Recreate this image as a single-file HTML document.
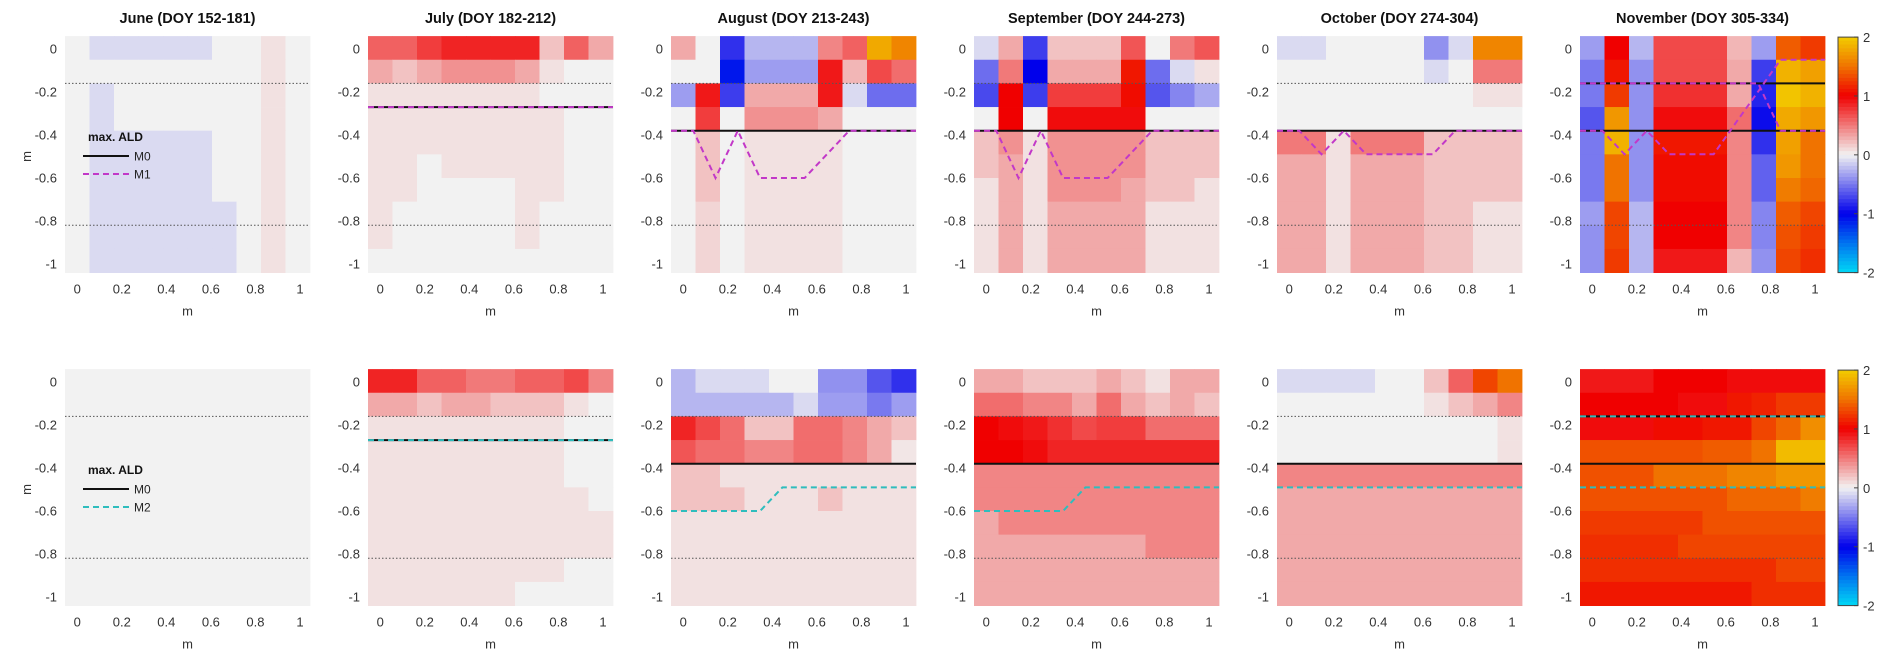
<!DOCTYPE html>
<html><head><meta charset="utf-8"><style>
body{margin:0;background:#fff;}
svg{display:block;font-family:"Liberation Sans",Arial,sans-serif;}
</style></head><body>
<svg id="chart" width="1892" height="666" viewBox="0 0 1892 666"></svg>
<script>
// ---------- data ----------
const titles = ["June (DOY 152-181)","July (DOY 182-212)","August (DOY 213-243)","September (DOY 244-273)","October (DOY 274-304)","November (DOY 305-334)"];
const xTicks = [0,0.2,0.4,0.6,0.8,1];
const xTickLabels = ["0","0.2","0.4","0.6","0.8","1"];
const yTicks = [0,-0.2,-0.4,-0.6,-0.8,-1];
const yTickLabels = ["0","-0.2","-0.4","-0.6","-0.8","-1"];
const cbTicks = [2,1,0,-1,-2];
const dottedDepths = [-0.16,-0.82];

const junT = [
[0,-0.1,-0.1,-0.1,-0.1,-0.1,0,0,0.07,0],
[0,0,0,0,0,0,0,0,0.07,0],
[0,-0.1,0,0,0,0,0,0,0.07,0],
[0,-0.1,0,0,0,0,0,0,0.07,0],
[0,-0.1,-0.1,-0.1,-0.1,-0.1,0,0,0.07,0],
[0,-0.1,-0.1,-0.1,-0.1,-0.1,0,0,0.07,0],
[0,-0.1,-0.1,-0.1,-0.1,-0.1,0,0,0.07,0],
[0,-0.1,-0.1,-0.1,-0.1,-0.1,-0.1,0,0.07,0],
[0,-0.1,-0.1,-0.1,-0.1,-0.1,-0.1,0,0.07,0],
[0,-0.1,-0.1,-0.1,-0.1,-0.1,-0.1,0,0.07,0]];
const julT = [
[0.6,0.6,0.75,0.85,0.85,0.85,0.85,0.2,0.6,0.3],
[0.3,0.2,0.3,0.4,0.4,0.4,0.3,0.07,0,0],
[0.07,0.07,0.07,0.07,0.07,0.07,0.07,0,0,0],
[0.07,0.07,0.07,0.07,0.07,0.07,0.07,0.07,0,0],
[0.07,0.07,0.07,0.07,0.07,0.07,0.07,0.07,0,0],
[0.07,0.07,0,0.07,0.07,0.07,0.07,0.07,0,0],
[0.07,0.07,0,0,0,0,0.07,0.07,0,0],
[0.07,0,0,0,0,0,0.07,0,0,0],
[0.07,0,0,0,0,0,0.07,0,0,0],
[0,0,0,0,0,0,0,0,0,0]];
const augT = [
[0.3,0,-0.8,-0.25,-0.25,-0.25,0.45,0.6,1.8,1.6],
[0,0,-1.1,-0.35,-0.35,-0.35,0.9,0.25,0.7,0.55],
[-0.35,0.9,-0.75,0.3,0.3,0.3,0.9,-0.1,-0.55,-0.55],
[0,0.75,0,0.4,0.4,0.4,0.3,0,0,0],
[0,0.2,0,0.07,0.07,0.07,0.07,0,0,0],
[0,0.2,0,0.07,0.07,0.07,0.07,0,0,0],
[0,0.2,0,0.07,0.07,0.07,0.07,0,0,0],
[0,0.12,0,0.07,0.07,0.07,0.07,0,0,0],
[0,0.12,0,0.07,0.07,0.07,0.07,0,0,0],
[0,0.12,0,0.07,0.07,0.07,0.07,0,0,0]];
const sepT = [
[-0.1,0.3,-0.75,0.2,0.2,0.2,0.65,0,0.5,0.65],
[-0.55,0.5,-1.0,0.3,0.3,0.3,1.1,-0.55,-0.1,0.07],
[-0.7,1.0,-0.75,0.75,0.75,0.75,1.05,-0.65,-0.45,-0.3],
[0,1.0,0,0.95,0.95,0.95,0.95,0,0,0],
[0.2,0.4,0.07,0.4,0.4,0.4,0.4,0.2,0.2,0.2],
[0.2,0.3,0.07,0.4,0.4,0.4,0.4,0.2,0.2,0.2],
[0.07,0.3,0.07,0.4,0.4,0.4,0.3,0.2,0.2,0.07],
[0.07,0.3,0.07,0.3,0.3,0.3,0.3,0.07,0.07,0.07],
[0.07,0.3,0.07,0.3,0.3,0.3,0.3,0.07,0.07,0.07],
[0.07,0.3,0.07,0.3,0.3,0.3,0.3,0.07,0.07,0.07]];
const octT = [
[-0.1,-0.1,0,0,0,0,-0.4,-0.1,1.6,1.6],
[0,0,0,0,0,0,-0.1,0,0.5,0.5],
[0,0,0,0,0,0,0,0,0.07,0.07],
[0,0,0,0,0,0,0,0,0,0],
[0.5,0.5,0.07,0.5,0.5,0.5,0.2,0.2,0.2,0.2],
[0.3,0.3,0.07,0.3,0.3,0.3,0.2,0.2,0.2,0.2],
[0.3,0.3,0.07,0.3,0.3,0.3,0.2,0.2,0.2,0.2],
[0.3,0.3,0.07,0.3,0.3,0.3,0.2,0.2,0.07,0.07],
[0.3,0.3,0.07,0.3,0.3,0.3,0.2,0.2,0.07,0.07],
[0.3,0.3,0.07,0.3,0.3,0.3,0.2,0.2,0.07,0.07]];
const novT = [
[-0.35,1.0,-0.25,0.7,0.7,0.7,0.25,-0.35,1.4,1.25],
[-0.5,1.1,-0.4,0.7,0.7,0.7,0.3,-0.75,1.85,1.75],
[-0.5,1.25,-0.4,0.8,0.8,0.8,0.3,-0.85,1.95,1.85],
[-0.65,1.7,-0.4,0.95,0.95,0.95,0.55,-0.95,1.8,1.7],
[-0.5,1.85,-0.4,1.1,1.1,1.1,0.45,-0.8,1.75,1.5],
[-0.5,1.5,-0.4,1.05,1.05,1.05,0.45,-0.6,1.7,1.5],
[-0.5,1.5,-0.4,1.05,1.05,1.05,0.45,-0.6,1.55,1.45],
[-0.35,1.3,-0.25,1.0,1.0,1.0,0.45,-0.45,1.4,1.3],
[-0.4,1.3,-0.25,1.0,1.0,1.0,0.45,-0.45,1.35,1.25],
[-0.4,1.25,-0.25,0.9,0.9,0.9,0.25,-0.4,1.3,1.2]];

const junB = [
[0,0,0,0,0,0,0,0,0,0],[0,0,0,0,0,0,0,0,0,0],[0,0,0,0,0,0,0,0,0,0],[0,0,0,0,0,0,0,0,0,0],[0,0,0,0,0,0,0,0,0,0],
[0,0,0,0,0,0,0,0,0,0],[0,0,0,0,0,0,0,0,0,0],[0,0,0,0,0,0,0,0,0,0],[0,0,0,0,0,0,0,0,0,0],[0,0,0,0,0,0,0,0,0,0]];
const julB = [
[0.85,0.85,0.6,0.6,0.5,0.5,0.6,0.6,0.7,0.45],
[0.3,0.3,0.2,0.3,0.3,0.2,0.2,0.2,0.07,0],
[0.07,0.07,0.07,0.07,0.07,0.07,0.07,0.07,0,0],
[0.07,0.07,0.07,0.07,0.07,0.07,0.07,0.07,0,0],
[0.07,0.07,0.07,0.07,0.07,0.07,0.07,0.07,0,0],
[0.07,0.07,0.07,0.07,0.07,0.07,0.07,0.07,0.07,0],
[0.07,0.07,0.07,0.07,0.07,0.07,0.07,0.07,0.07,0.07],
[0.07,0.07,0.07,0.07,0.07,0.07,0.07,0.07,0.07,0.07],
[0.07,0.07,0.07,0.07,0.07,0.07,0.07,0.07,0,0],
[0.07,0.07,0.07,0.07,0.07,0.07,0,0,0,0]];
const augB = [
[-0.25,-0.1,-0.1,-0.1,0,0,-0.4,-0.4,-0.65,-0.8],
[-0.25,-0.25,-0.25,-0.25,-0.25,-0.1,-0.35,-0.35,-0.5,-0.35],
[0.85,0.7,0.55,0.2,0.2,0.55,0.55,0.45,0.3,0.2],
[0.65,0.55,0.55,0.45,0.45,0.55,0.55,0.45,0.3,0.05],
[0.2,0.2,0.07,0.07,0.07,0.07,0.07,0.07,0.07,0.07],
[0.2,0.2,0.2,0.07,0.07,0.07,0.2,0.07,0.07,0.07],
[0.07,0.07,0.07,0.07,0.07,0.07,0.07,0.07,0.07,0.07],
[0.07,0.07,0.07,0.07,0.07,0.07,0.07,0.07,0.07,0.07],
[0.07,0.07,0.07,0.07,0.07,0.07,0.07,0.07,0.07,0.07],
[0.07,0.07,0.07,0.07,0.07,0.07,0.07,0.07,0.07,0.07]];
const sepB = [
[0.3,0.3,0.2,0.2,0.2,0.3,0.2,0.07,0.3,0.3],
[0.55,0.55,0.45,0.45,0.3,0.55,0.3,0.2,0.3,0.2],
[1.0,0.95,0.9,0.8,0.7,0.75,0.75,0.55,0.55,0.55],
[1.0,1.0,0.95,0.85,0.85,0.85,0.85,0.85,0.85,0.85],
[0.45,0.45,0.45,0.45,0.45,0.45,0.45,0.45,0.45,0.45],
[0.45,0.45,0.45,0.45,0.45,0.45,0.45,0.45,0.45,0.45],
[0.3,0.45,0.45,0.45,0.45,0.45,0.45,0.45,0.45,0.45],
[0.3,0.3,0.3,0.3,0.3,0.3,0.3,0.45,0.45,0.45],
[0.3,0.3,0.3,0.3,0.3,0.3,0.3,0.3,0.3,0.3],
[0.3,0.3,0.3,0.3,0.3,0.3,0.3,0.3,0.3,0.3]];
const octB = [
[-0.1,-0.1,-0.1,-0.1,0,0,0.2,0.6,1.3,1.5],
[0,0,0,0,0,0,0.07,0.2,0.3,0.45],
[0,0,0,0,0,0,0,0,0,0.07],
[0,0,0,0,0,0,0,0,0,0.07],
[0.45,0.45,0.45,0.45,0.45,0.45,0.45,0.45,0.45,0.45],
[0.3,0.3,0.3,0.3,0.3,0.3,0.3,0.3,0.3,0.3],
[0.3,0.3,0.3,0.3,0.3,0.3,0.3,0.3,0.3,0.3],
[0.3,0.3,0.3,0.3,0.3,0.3,0.3,0.3,0.3,0.3],
[0.3,0.3,0.3,0.3,0.3,0.3,0.3,0.3,0.3,0.3],
[0.3,0.3,0.3,0.3,0.3,0.3,0.3,0.3,0.3,0.3]];
const novB = [
[0.9,0.9,0.9,1.0,1.0,1.0,0.95,0.95,0.95,0.95],
[1.0,1.0,1.0,1.0,0.95,0.95,1.1,1.15,1.25,1.25],
[0.95,0.95,0.95,1.05,1.05,1.1,1.1,1.3,1.45,1.65],
[1.35,1.35,1.35,1.35,1.35,1.4,1.4,1.5,1.9,1.9],
[1.35,1.35,1.35,1.5,1.5,1.5,1.6,1.6,1.7,1.7],
[1.35,1.35,1.35,1.35,1.35,1.35,1.45,1.45,1.45,1.55],
[1.25,1.25,1.25,1.25,1.25,1.35,1.35,1.35,1.35,1.35],
[1.2,1.2,1.2,1.2,1.3,1.3,1.3,1.3,1.3,1.3],
[1.2,1.2,1.2,1.2,1.2,1.2,1.2,1.2,1.3,1.3],
[1.1,1.1,1.1,1.1,1.1,1.1,1.1,1.2,1.2,1.2]];

// ALD lines (depth in m; a number = flat line, an array = 12 points across the panel)
const julM0 = -0.27, julM1 = -0.27, julM2 = -0.27;
const augM0 = -0.38, sepM0 = -0.38, octM0 = -0.38;
const novM0a = -0.16, novM0b = -0.38;
const augM1 = [-0.38,-0.38,-0.6,-0.38,-0.6,-0.6,-0.6,-0.49,-0.38,-0.38,-0.38,-0.38];
const sepM1 = [-0.38,-0.38,-0.6,-0.38,-0.6,-0.6,-0.6,-0.49,-0.38,-0.38,-0.38,-0.38];
const octM1 = [-0.38,-0.38,-0.49,-0.38,-0.49,-0.49,-0.49,-0.49,-0.38,-0.38,-0.38,-0.38];
const novM1a = [-0.38,-0.38,-0.49,-0.38,-0.49,-0.49,-0.49,-0.343,-0.197,-0.05,-0.05,-0.05];
const novM1b = [-0.16,-0.16,-0.16,-0.16,-0.16,-0.16,-0.16,-0.16,-0.16,-0.38,-0.38,-0.38];
const augM2 = [-0.6,-0.6,-0.6,-0.6,-0.6,-0.49,-0.49,-0.49,-0.49,-0.49,-0.49,-0.49];
const sepM2 = [-0.6,-0.6,-0.6,-0.6,-0.6,-0.49,-0.49,-0.49,-0.49,-0.49,-0.49,-0.49];
const octM2 = -0.49;
const novM2a = -0.16, novM2b = -0.49;

// ---------- drawing ----------
const NS = "http://www.w3.org/2000/svg";
const svg = document.getElementById("chart");
const PANEL_W = 245, PITCH = 303, LEFT0 = 65;
const ROW_Y0 = [49, 382]; // y pixel of depth 0 for each row
const PX_PER_M_Y = 215;
const X_MIN = -0.055, X_MAX = 1.045;
const D_TOP = 0.06, CELL_D = 0.11;
const MAG = "#c238c8", CYAN = "#2fbdbd";

function mk(tag, attrs, parent){ const e=document.createElementNS(NS,tag); for(const k in attrs) e.setAttribute(k,attrs[k]); (parent||svg).appendChild(e); return e; }
function xScale(L, v){ return L + (v - X_MIN) / (X_MAX - X_MIN) * PANEL_W; }
function yScale(row, d){ return ROW_Y0[row] - d * PX_PER_M_Y; }

const cstops = [[-2,[0,215,245]],[-1.5,[0,115,240]],[-1,[0,0,235]],[0,[242,242,242]],[1,[240,0,0]],[1.5,[240,115,0]],[2,[242,205,0]]];
function cmap(v){
  v=Math.max(-2,Math.min(2,v));
  for(let i=0;i<cstops.length-1;i++){
    const a=cstops[i], b=cstops[i+1];
    if(v>=a[0]&&v<=b[0]){ const t=(v-a[0])/(b[0]-a[0]); const c=a[1].map((x,j)=>Math.round(x+(b[1][j]-x)*t)); return `rgb(${c[0]},${c[1]},${c[2]})`; }
  }
  return "rgb(242,242,242)";
}

const months = ["jun","jul","aug","sep","oct","nov"];
const topData = [junT,julT,augT,sepT,octT,novT];
const botData = [junB,julB,augB,sepB,octB,novB];
const topLines = [
  [],
  [{d:julM0,c:"#111",solid:true},{d:julM1,c:MAG}],
  [{d:augM0,c:"#111",solid:true},{d:augM1,c:MAG}],
  [{d:sepM0,c:"#111",solid:true},{d:sepM1,c:MAG}],
  [{d:octM0,c:"#111",solid:true},{d:octM1,c:MAG}],
  [{d:novM0a,c:"#111",solid:true},{d:novM0b,c:"#111",solid:true},{d:novM1a,c:MAG},{d:novM1b,c:MAG}]
];
const botLines = [
  [],
  [{d:julM0,c:"#111",solid:true},{d:julM2,c:CYAN}],
  [{d:augM0,c:"#111",solid:true},{d:augM2,c:CYAN}],
  [{d:sepM0,c:"#111",solid:true},{d:sepM2,c:CYAN}],
  [{d:octM0,c:"#111",solid:true},{d:octM2,c:CYAN}],
  [{d:novM0a,c:"#111",solid:true},{d:novM0b,c:"#111",solid:true},{d:novM2a,c:CYAN},{d:novM2b,c:CYAN}]
];

function drawPanel(row, p, data, lines){
  const L = LEFT0 + p*PITCH;
  const g = mk("g",{});
  
  
  const cw = PANEL_W/10;
  data.forEach((r,ri)=>{
    r.forEach((v,ci)=>{
      const x0 = xScale(L, X_MIN + ci*(X_MAX-X_MIN)/10);
      const yTop = yScale(row, D_TOP - ri*CELL_D), yBot = yScale(row, D_TOP-(ri+1)*CELL_D);
      const c = mk("rect",{x:x0.toFixed(2),y:yTop.toFixed(2),width:(cw+0.4).toFixed(2),height:(yBot-yTop+0.4).toFixed(2),fill:cmap(v)},g);
      
      
    });
  });
  // dotted layer lines
  dottedDepths.forEach(d=>{
    const l = mk("line",{x1:L,x2:L+PANEL_W,y1:yScale(row,d),y2:yScale(row,d),stroke:"#555","stroke-width":1,"stroke-dasharray":"1.5,2"},g);
    
    
  });
  // ALD lines
  lines.forEach(ln=>{
    let pts;
    if(Array.isArray(ln.d)) pts = ln.d.map((d,k)=>[L + k/(ln.d.length-1)*PANEL_W, yScale(row,d)]);
    else pts = [[L,yScale(row,ln.d)],[L+PANEL_W,yScale(row,ln.d)]];
    const el = mk("polyline",{points:pts.map(q=>q[0].toFixed(1)+","+q[1].toFixed(1)).join(" "),fill:"none",stroke:ln.c,"stroke-width":2},g);
    if(!ln.solid) el.setAttribute("stroke-dasharray","6,4");
    
    
  });
  // ticks
  yTicks.forEach((t,i)=>{
    const tx = mk("text",{x:L-8,y:yScale(row,t)+4.5,"text-anchor":"end","font-size":13,fill:"#333"},g);
    tx.textContent = yTickLabels[i];
    
    
  });
  xTicks.forEach((t,i)=>{
    const tx = mk("text",{x:xScale(L,t),y:yScale(row,-1.04)+21,"text-anchor":"middle","font-size":13,fill:"#333"},g);
    tx.textContent = xTickLabels[i];
    
    
  });
  const xl = mk("text",{x:L+PANEL_W/2,y:yScale(row,-1.04)+43,"text-anchor":"middle","font-size":13,fill:"#333"},g);
  xl.textContent = "m";
  
  
  if(row===0){
    const t = mk("text",{x:L+PANEL_W/2,y:23,"text-anchor":"middle","font-size":14.5,"font-weight":"bold",fill:"#111"},g);
    t.textContent = titles[p];
    
    
  }
  if(p===0){
    const yl = mk("text",{x:0,y:0,"text-anchor":"middle","font-size":13,fill:"#333",transform:`translate(31,${yScale(row,-0.5)}) rotate(-90)`},g);
    yl.textContent = "m";
    
    
    // legend
    const off = ROW_Y0[row]-49;
    const lg = mk("g",{},g);
    
    
    const lt = mk("text",{x:88,y:141+off,"font-size":12,"font-weight":"bold",fill:"#111"},lg);
    lt.textContent = "max. ALD";
    
    
    const l1 = mk("line",{x1:83,x2:129,y1:156+off,y2:156+off,stroke:"#111","stroke-width":2},lg);
    
    
    const t1 = mk("text",{x:134,y:160.5+off,"font-size":12,fill:"#222"},lg);
    t1.textContent = "M0";
    
    
    const l2 = mk("line",{x1:83,x2:129,y1:174+off,y2:174+off,stroke:row===0?MAG:CYAN,"stroke-width":2,"stroke-dasharray":"6,4"},lg);
    
    
    const t2 = mk("text",{x:134,y:178.5+off,"font-size":12,fill:"#222"},lg);
    t2.textContent = row===0?"M1":"M2";
    
    
  }
}

function drawColorbar(row){
  const x0 = 1838, w = 20;
  const yT = yScale(row, D_TOP)+1, yB = yScale(row, -1.04);
  const g = mk("g",{});
  
  
  const N = 64, h = (yB-yT)/N;
  for(let i=0;i<N;i++){
    const v = 2 - (i+0.5)*4/N;
    const r = mk("rect",{x:x0,y:(yT+i*h).toFixed(2),width:w,height:(h+0.3).toFixed(2),fill:cmap(v)},g);
    
    
  }
  const b = mk("rect",{x:x0,y:yT,width:w,height:yB-yT,fill:"none",stroke:"#444","stroke-width":1},g);
  
  
  cbTicks.forEach(t=>{
    const y = yT + (2-t)/4*(yB-yT);
    const tk = mk("line",{x1:x0+w-4,x2:x0+w,y1:y,y2:y,stroke:"#444"},g);
    
    
    const tx = mk("text",{x:x0+w+5,y:y+5,"font-size":13,fill:"#333"},g);
    tx.textContent = String(t);
    
    
  });
}

for(let p=0;p<6;p++){ drawPanel(0,p,topData[p],topLines[p]); drawPanel(1,p,botData[p],botLines[p]); }
drawColorbar(0); drawColorbar(1);
</script>
</body></html>
